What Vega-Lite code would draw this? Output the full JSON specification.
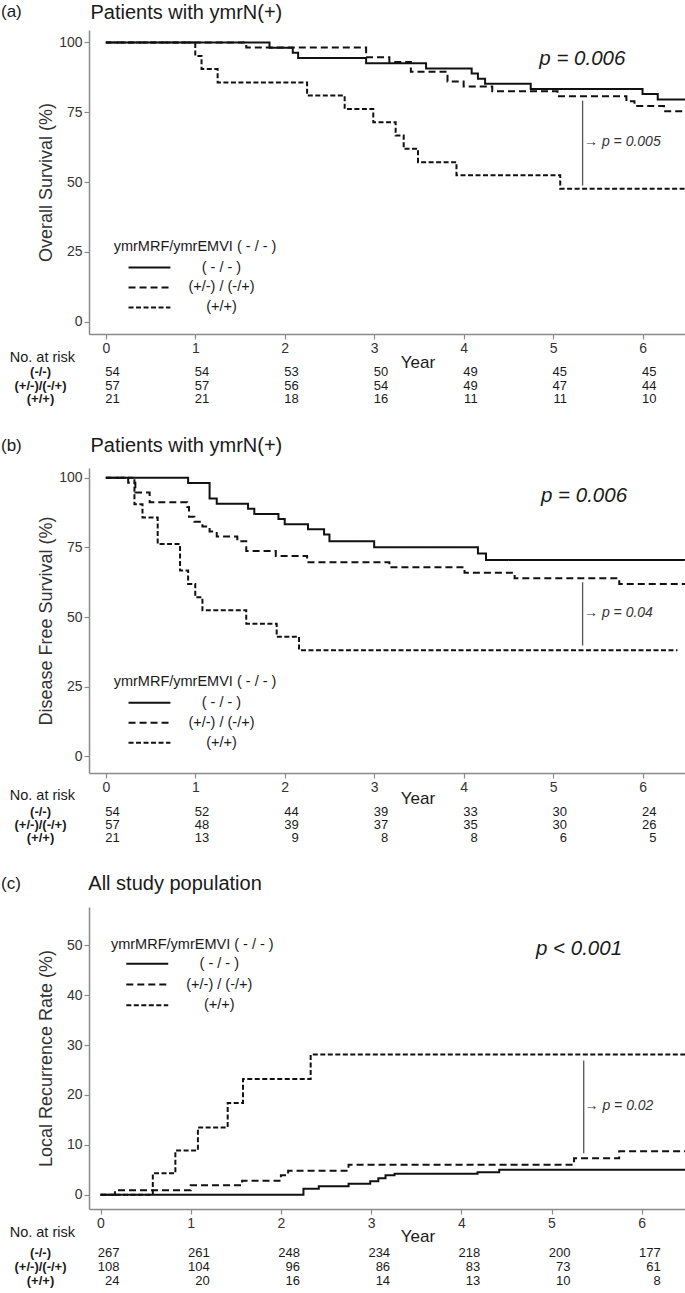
{
"$schema": "https://vega.github.io/schema/vega-lite/v6.json",
"background": "white",
"padding": {"left": 0, "top": 2, "right": 0, "bottom": 0},
"autosize": {"type": "pad"},
"bounds": "flush",
"spacing": 134,
"resolve": {"scale": {"x": "independent", "y": "independent"}},
"config": {
  "font": "Liberation Sans",
  "view": {"stroke": null},
  "axis": {"grid": false, "domainColor": "#8a8a8a", "domainWidth": 1.5, "tickColor": "#8a8a8a", "tickWidth": 1.2, "tickSize": 5, "labelColor": "#333333", "labelFontSize": 14, "labelPadding": 2, "titleColor": "#333333", "titleFontSize": 18, "titleFontWeight": "normal", "labelFont": "Liberation Sans", "titleFont": "Liberation Sans"},
  "text": {"color": "#1a1a1a", "baseline": "middle"}
},
"datasets": {
  "km": [
    {"p":"a","g":"n","t":0,"v":100},{"p":"a","g":"n","t":1.83,"v":98.1},{"p":"a","g":"n","t":2.09,"v":96.3},{"p":"a","g":"n","t":2.15,"v":94.4},{"p":"a","g":"n","t":2.91,"v":92.6},{"p":"a","g":"n","t":3.58,"v":90.7},{"p":"a","g":"n","t":4.09,"v":88.9},{"p":"a","g":"n","t":4.16,"v":87.0},{"p":"a","g":"n","t":4.24,"v":85.2},{"p":"a","g":"n","t":4.75,"v":83.3},{"p":"a","g":"n","t":6.0,"v":81.5},{"p":"a","g":"n","t":6.17,"v":79.6},{"p":"a","g":"n","t":6.48,"v":79.6},
    {"p":"a","g":"m","t":0,"v":100},{"p":"a","g":"m","t":1.57,"v":98.2},{"p":"a","g":"m","t":2.91,"v":94.7},{"p":"a","g":"m","t":3.17,"v":93.0},{"p":"a","g":"m","t":3.41,"v":89.5},{"p":"a","g":"m","t":3.82,"v":86.0},{"p":"a","g":"m","t":4.0,"v":84.2},{"p":"a","g":"m","t":4.32,"v":82.5},{"p":"a","g":"m","t":5.05,"v":80.7},{"p":"a","g":"m","t":5.82,"v":78.9},{"p":"a","g":"m","t":5.91,"v":77.2},{"p":"a","g":"m","t":6.24,"v":75.4},{"p":"a","g":"m","t":6.48,"v":75.4},
    {"p":"a","g":"p","t":0,"v":100},{"p":"a","g":"p","t":1.0,"v":95.2},{"p":"a","g":"p","t":1.07,"v":90.5},{"p":"a","g":"p","t":1.25,"v":85.7},{"p":"a","g":"p","t":2.25,"v":81.0},{"p":"a","g":"p","t":2.67,"v":76.2},{"p":"a","g":"p","t":2.99,"v":71.4},{"p":"a","g":"p","t":3.24,"v":66.7},{"p":"a","g":"p","t":3.33,"v":61.9},{"p":"a","g":"p","t":3.49,"v":57.1},{"p":"a","g":"p","t":3.92,"v":52.4},{"p":"a","g":"p","t":5.08,"v":47.6},{"p":"a","g":"p","t":6.48,"v":47.6},
    {"p":"b","g":"n","t":0,"v":100},{"p":"b","g":"n","t":0.92,"v":98.1},{"p":"b","g":"n","t":1.16,"v":92.6},{"p":"b","g":"n","t":1.24,"v":90.7},{"p":"b","g":"n","t":1.59,"v":88.9},{"p":"b","g":"n","t":1.66,"v":87.0},{"p":"b","g":"n","t":1.93,"v":85.2},{"p":"b","g":"n","t":2.0,"v":83.3},{"p":"b","g":"n","t":2.26,"v":81.5},{"p":"b","g":"n","t":2.44,"v":79.6},{"p":"b","g":"n","t":2.5,"v":77.2},{"p":"b","g":"n","t":3.0,"v":75.1},{"p":"b","g":"n","t":4.16,"v":72.8},{"p":"b","g":"n","t":4.25,"v":70.5},{"p":"b","g":"n","t":6.48,"v":70.5},
    {"p":"b","g":"m","t":0,"v":100},{"p":"b","g":"m","t":0.25,"v":98.2},{"p":"b","g":"m","t":0.33,"v":94.7},{"p":"b","g":"m","t":0.49,"v":91.2},{"p":"b","g":"m","t":0.91,"v":89.5},{"p":"b","g":"m","t":0.93,"v":86.0},{"p":"b","g":"m","t":0.99,"v":84.2},{"p":"b","g":"m","t":1.08,"v":82.5},{"p":"b","g":"m","t":1.16,"v":80.7},{"p":"b","g":"m","t":1.24,"v":78.9},{"p":"b","g":"m","t":1.47,"v":77.2},{"p":"b","g":"m","t":1.57,"v":73.7},{"p":"b","g":"m","t":1.9,"v":71.9},{"p":"b","g":"m","t":2.25,"v":69.7},{"p":"b","g":"m","t":3.17,"v":67.9},{"p":"b","g":"m","t":4.01,"v":65.9},{"p":"b","g":"m","t":4.57,"v":63.9},{"p":"b","g":"m","t":5.74,"v":61.9},{"p":"b","g":"m","t":6.48,"v":61.9},
    {"p":"b","g":"p","t":0,"v":100},{"p":"b","g":"p","t":0.32,"v":90.5},{"p":"b","g":"p","t":0.41,"v":85.7},{"p":"b","g":"p","t":0.58,"v":76.2},{"p":"b","g":"p","t":0.83,"v":66.7},{"p":"b","g":"p","t":0.92,"v":61.9},{"p":"b","g":"p","t":1.0,"v":57.1},{"p":"b","g":"p","t":1.08,"v":52.4},{"p":"b","g":"p","t":1.57,"v":47.6},{"p":"b","g":"p","t":1.91,"v":42.9},{"p":"b","g":"p","t":2.16,"v":38.1},{"p":"b","g":"p","t":6.39,"v":38.1},
    {"p":"c","g":"n","t":0,"v":0},{"p":"c","g":"n","t":2.25,"v":1.2},{"p":"c","g":"n","t":2.42,"v":1.7},{"p":"c","g":"n","t":2.75,"v":2.2},{"p":"c","g":"n","t":2.99,"v":2.7},{"p":"c","g":"n","t":3.08,"v":3.3},{"p":"c","g":"n","t":3.16,"v":3.9},{"p":"c","g":"n","t":3.26,"v":4.2},{"p":"c","g":"n","t":4.18,"v":4.5},{"p":"c","g":"n","t":4.42,"v":5.0},{"p":"c","g":"n","t":6.49,"v":5.0},
    {"p":"c","g":"m","t":0,"v":0},{"p":"c","g":"m","t":0.16,"v":0.9},{"p":"c","g":"m","t":1.0,"v":1.9},{"p":"c","g":"m","t":1.57,"v":2.8},{"p":"c","g":"m","t":2.0,"v":3.9},{"p":"c","g":"m","t":2.08,"v":4.8},{"p":"c","g":"m","t":2.75,"v":6.0},{"p":"c","g":"m","t":5.25,"v":7.3},{"p":"c","g":"m","t":5.75,"v":8.7},{"p":"c","g":"m","t":6.49,"v":8.7},
    {"p":"c","g":"p","t":0,"v":0},{"p":"c","g":"p","t":0.58,"v":4.3},{"p":"c","g":"p","t":0.83,"v":8.9},{"p":"c","g":"p","t":1.08,"v":13.5},{"p":"c","g":"p","t":1.41,"v":18.4},{"p":"c","g":"p","t":1.58,"v":23.2},{"p":"c","g":"p","t":2.33,"v":28.1},{"p":"c","g":"p","t":6.49,"v":28.1}
  ],
  "risk": [
    {"p":"a","g":"n","year":0,"n":54},{"p":"a","g":"n","year":1,"n":54},{"p":"a","g":"n","year":2,"n":53},{"p":"a","g":"n","year":3,"n":50},{"p":"a","g":"n","year":4,"n":49},{"p":"a","g":"n","year":5,"n":45},{"p":"a","g":"n","year":6,"n":45},
    {"p":"a","g":"m","year":0,"n":57},{"p":"a","g":"m","year":1,"n":57},{"p":"a","g":"m","year":2,"n":56},{"p":"a","g":"m","year":3,"n":54},{"p":"a","g":"m","year":4,"n":49},{"p":"a","g":"m","year":5,"n":47},{"p":"a","g":"m","year":6,"n":44},
    {"p":"a","g":"p","year":0,"n":21},{"p":"a","g":"p","year":1,"n":21},{"p":"a","g":"p","year":2,"n":18},{"p":"a","g":"p","year":3,"n":16},{"p":"a","g":"p","year":4,"n":11},{"p":"a","g":"p","year":5,"n":11},{"p":"a","g":"p","year":6,"n":10},
    {"p":"b","g":"n","year":0,"n":54},{"p":"b","g":"n","year":1,"n":52},{"p":"b","g":"n","year":2,"n":44},{"p":"b","g":"n","year":3,"n":39},{"p":"b","g":"n","year":4,"n":33},{"p":"b","g":"n","year":5,"n":30},{"p":"b","g":"n","year":6,"n":24},
    {"p":"b","g":"m","year":0,"n":57},{"p":"b","g":"m","year":1,"n":48},{"p":"b","g":"m","year":2,"n":39},{"p":"b","g":"m","year":3,"n":37},{"p":"b","g":"m","year":4,"n":35},{"p":"b","g":"m","year":5,"n":30},{"p":"b","g":"m","year":6,"n":26},
    {"p":"b","g":"p","year":0,"n":21},{"p":"b","g":"p","year":1,"n":13},{"p":"b","g":"p","year":2,"n":9},{"p":"b","g":"p","year":3,"n":8},{"p":"b","g":"p","year":4,"n":8},{"p":"b","g":"p","year":5,"n":6},{"p":"b","g":"p","year":6,"n":5},
    {"p":"c","g":"n","year":0,"n":267},{"p":"c","g":"n","year":1,"n":261},{"p":"c","g":"n","year":2,"n":248},{"p":"c","g":"n","year":3,"n":234},{"p":"c","g":"n","year":4,"n":218},{"p":"c","g":"n","year":5,"n":200},{"p":"c","g":"n","year":6,"n":177},
    {"p":"c","g":"m","year":0,"n":108},{"p":"c","g":"m","year":1,"n":104},{"p":"c","g":"m","year":2,"n":96},{"p":"c","g":"m","year":3,"n":86},{"p":"c","g":"m","year":4,"n":83},{"p":"c","g":"m","year":5,"n":73},{"p":"c","g":"m","year":6,"n":61},
    {"p":"c","g":"p","year":0,"n":24},{"p":"c","g":"p","year":1,"n":20},{"p":"c","g":"p","year":2,"n":16},{"p":"c","g":"p","year":3,"n":14},{"p":"c","g":"p","year":4,"n":13},{"p":"c","g":"p","year":5,"n":10},{"p":"c","g":"p","year":6,"n":8}
  ]
},
"vconcat": [
{
  "width": 597, "height": 304,
  "layer": [
    {"data":{"name":"km"},"transform":[{"filter":"datum.p==='a'"}],
     "mark":{"type":"line","interpolate":"step-after","strokeWidth":2,"color":"#111111"},
     "encoding":{
       "x":{"field":"t","type":"quantitative","scale":{"domain":[-0.188,6.486],"nice":false,"zero":false},"axis":{"values":[0,1,2,3,4,5,6],"title":null,"format":"d"}},
       "y":{"field":"v","type":"quantitative","scale":{"domain":[-4.48,104.48],"nice":false,"zero":false},"axis":{"values":[0,25,50,75,100],"title":"Overall Survival (%)","titlePadding":3}},
       "strokeDash":{"field":"g","type":"nominal","scale":{"domain":["n","m","p"],"range":[[1,0],[7,4],[5,2.5]]},"legend":null}}},
    {"data":{"values":[{}]},"mark":{"type":"text","text":"(a)","fontSize":17,"align":"left"},"encoding":{"x":{"datum":-1.172},"y":{"datum":110.9}}},
    {"data":{"values":[{}]},"mark":{"type":"text","text":"Patients with ymrN(+)","fontSize":20,"align":"left"},"encoding":{"x":{"datum":-0.171},"y":{"datum":110.75}}},
    {"data":{"values":[{}]},"mark":{"type":"text","text":"ymrMRF/ymrEMVI ( - / - )","fontSize":14.5,"align":"left"},"encoding":{"x":{"datum":0.088},"y":{"datum":26.6}}},
    {"data":{"values":[{}]},"mark":{"type":"rule","strokeWidth":2,"color":"#111111"},"encoding":{"x":{"datum":0.254},"x2":{"datum":0.722},"y":{"datum":19.35}}},
    {"data":{"values":[{}]},"mark":{"type":"rule","strokeWidth":2,"color":"#111111","strokeDash":[7,4]},"encoding":{"x":{"datum":0.254},"x2":{"datum":0.722},"y":{"datum":12.19}}},
    {"data":{"values":[{}]},"mark":{"type":"rule","strokeWidth":2,"color":"#111111","strokeDash":[5,2.5]},"encoding":{"x":{"datum":0.254},"x2":{"datum":0.722},"y":{"datum":5.02}}},
    {"data":{"values":[{}]},"mark":{"type":"text","text":"( - / - )","fontSize":14.5,"align":"center"},"encoding":{"x":{"datum":1.293},"y":{"datum":19.35}}},
    {"data":{"values":[{}]},"mark":{"type":"text","text":"(+/-) / (-/+)","fontSize":14.5,"align":"center"},"encoding":{"x":{"datum":1.293},"y":{"datum":12.19}}},
    {"data":{"values":[{}]},"mark":{"type":"text","text":"(+/+)","fontSize":14.5,"align":"center"},"encoding":{"x":{"datum":1.293},"y":{"datum":5.02}}},
    {"data":{"values":[{}]},"mark":{"type":"text","text":"p = 0.006","fontSize":20.5,"fontStyle":"italic","align":"left"},"encoding":{"x":{"datum":4.846},"y":{"datum":94.1}}},
    {"data":{"values":[{}]},"mark":{"type":"rule","strokeWidth":1.3,"color":"#555555"},"encoding":{"x":{"datum":5.33},"y":{"datum":79.2},"y2":{"datum":48.7}}},
    {"data":{"values":[{}]},"mark":{"type":"text","text":"→ p = 0.005","fontSize":14,"fontStyle":"italic","align":"left","color":"#333333"},"encoding":{"x":{"datum":5.346},"y":{"datum":64.3}}},
    {"data":{"values":[{}]},"mark":{"type":"text","text":"Year","fontSize":17,"align":"center"},"encoding":{"x":{"datum":3.49},"y":{"datum":-14.7}}},
    {"data":{"values":[{}]},"mark":{"type":"text","text":"No. at risk","fontSize":14.5,"align":"left"},"encoding":{"x":{"datum":-1.074},"y":{"datum":-13.26}}},
    {"data":{"values":[{}]},"mark":{"type":"text","text":"(-/-)","fontSize":13,"fontWeight":"bold","align":"center"},"encoding":{"x":{"datum":-0.73},"y":{"datum":-18.17}}},
    {"data":{"values":[{}]},"mark":{"type":"text","text":"(+/-)/(-/+)","fontSize":13,"fontWeight":"bold","align":"center"},"encoding":{"x":{"datum":-0.73},"y":{"datum":-22.94}}},
    {"data":{"values":[{}]},"mark":{"type":"text","text":"(+/+)","fontSize":13,"fontWeight":"bold","align":"center"},"encoding":{"x":{"datum":-0.73},"y":{"datum":-27.71}}},
    {"data":{"name":"risk"},"transform":[{"filter":"datum.p==='a' && datum.g==='n'"}],"mark":{"type":"text","fontSize":13,"align":"right","dx":14},"encoding":{"x":{"field":"year","type":"quantitative"},"y":{"datum":-18.17},"text":{"field":"n"}}},
    {"data":{"name":"risk"},"transform":[{"filter":"datum.p==='a' && datum.g==='m'"}],"mark":{"type":"text","fontSize":13,"align":"right","dx":14},"encoding":{"x":{"field":"year","type":"quantitative"},"y":{"datum":-22.94},"text":{"field":"n"}}},
    {"data":{"name":"risk"},"transform":[{"filter":"datum.p==='a' && datum.g==='p'"}],"mark":{"type":"text","fontSize":13,"align":"right","dx":14},"encoding":{"x":{"field":"year","type":"quantitative"},"y":{"datum":-27.71},"text":{"field":"n"}}}
  ]
},
{
  "width": 597, "height": 305,
  "layer": [
    {"data":{"name":"km"},"transform":[{"filter":"datum.p==='b'"}],
     "mark":{"type":"line","interpolate":"step-after","strokeWidth":2,"color":"#111111"},
     "encoding":{
       "x":{"field":"t","type":"quantitative","scale":{"domain":[-0.188,6.486],"nice":false,"zero":false},"axis":{"values":[0,1,2,3,4,5,6],"title":null,"format":"d"}},
       "y":{"field":"v","type":"quantitative","scale":{"domain":[-6.03,103.52],"nice":false,"zero":false},"axis":{"values":[0,25,50,75,100],"title":"Disease Free Survival (%)","titlePadding":3}},
       "strokeDash":{"field":"g","type":"nominal","scale":{"domain":["n","m","p"],"range":[[1,0],[7,4],[5,2.5]]},"legend":null}}},
    {"data":{"values":[{}]},"mark":{"type":"text","text":"(b)","fontSize":17,"align":"left"},"encoding":{"x":{"datum":-1.172},"y":{"datum":111.6}}},
    {"data":{"values":[{}]},"mark":{"type":"text","text":"Patients with ymrN(+)","fontSize":20,"align":"left"},"encoding":{"x":{"datum":-0.171},"y":{"datum":111.6}}},
    {"data":{"values":[{}]},"mark":{"type":"text","text":"ymrMRF/ymrEMVI ( - / - )","fontSize":14.5,"align":"left"},"encoding":{"x":{"datum":0.088},"y":{"datum":26.58}}},
    {"data":{"values":[{}]},"mark":{"type":"rule","strokeWidth":2,"color":"#111111"},"encoding":{"x":{"datum":0.254},"x2":{"datum":0.722},"y":{"datum":19.18}}},
    {"data":{"values":[{}]},"mark":{"type":"rule","strokeWidth":2,"color":"#111111","strokeDash":[7,4]},"encoding":{"x":{"datum":0.254},"x2":{"datum":0.722},"y":{"datum":12.0}}},
    {"data":{"values":[{}]},"mark":{"type":"rule","strokeWidth":2,"color":"#111111","strokeDash":[5,2.5]},"encoding":{"x":{"datum":0.254},"x2":{"datum":0.722},"y":{"datum":4.81}}},
    {"data":{"values":[{}]},"mark":{"type":"text","text":"( - / - )","fontSize":14.5,"align":"center"},"encoding":{"x":{"datum":1.293},"y":{"datum":19.18}}},
    {"data":{"values":[{}]},"mark":{"type":"text","text":"(+/-) / (-/+)","fontSize":14.5,"align":"center"},"encoding":{"x":{"datum":1.293},"y":{"datum":12.0}}},
    {"data":{"values":[{}]},"mark":{"type":"text","text":"(+/+)","fontSize":14.5,"align":"center"},"encoding":{"x":{"datum":1.293},"y":{"datum":4.81}}},
    {"data":{"values":[{}]},"mark":{"type":"text","text":"p = 0.006","fontSize":20.5,"fontStyle":"italic","align":"left"},"encoding":{"x":{"datum":4.865},"y":{"datum":93.64}}},
    {"data":{"values":[{}]},"mark":{"type":"rule","strokeWidth":1.3,"color":"#555555"},"encoding":{"x":{"datum":5.33},"y":{"datum":62.5},"y2":{"datum":39.76}}},
    {"data":{"values":[{}]},"mark":{"type":"text","text":"→ p = 0.04","fontSize":14,"fontStyle":"italic","align":"left","color":"#333333"},"encoding":{"x":{"datum":5.346},"y":{"datum":51.4}}},
    {"data":{"values":[{}]},"mark":{"type":"text","text":"Year","fontSize":17,"align":"center"},"encoding":{"x":{"datum":3.49},"y":{"datum":-15.3}}},
    {"data":{"values":[{}]},"mark":{"type":"text","text":"No. at risk","fontSize":14.5,"align":"left"},"encoding":{"x":{"datum":-1.074},"y":{"datum":-14.12}}},
    {"data":{"values":[{}]},"mark":{"type":"text","text":"(-/-)","fontSize":13,"fontWeight":"bold","align":"center"},"encoding":{"x":{"datum":-0.73},"y":{"datum":-20.04}}},
    {"data":{"values":[{}]},"mark":{"type":"text","text":"(+/-)/(-/+)","fontSize":13,"fontWeight":"bold","align":"center"},"encoding":{"x":{"datum":-0.73},"y":{"datum":-24.78}}},
    {"data":{"values":[{}]},"mark":{"type":"text","text":"(+/+)","fontSize":13,"fontWeight":"bold","align":"center"},"encoding":{"x":{"datum":-0.73},"y":{"datum":-29.53}}},
    {"data":{"name":"risk"},"transform":[{"filter":"datum.p==='b' && datum.g==='n'"}],"mark":{"type":"text","fontSize":13,"align":"right","dx":14},"encoding":{"x":{"field":"year","type":"quantitative"},"y":{"datum":-20.04},"text":{"field":"n"}}},
    {"data":{"name":"risk"},"transform":[{"filter":"datum.p==='b' && datum.g==='m'"}],"mark":{"type":"text","fontSize":13,"align":"right","dx":14},"encoding":{"x":{"field":"year","type":"quantitative"},"y":{"datum":-24.78},"text":{"field":"n"}}},
    {"data":{"name":"risk"},"transform":[{"filter":"datum.p==='b' && datum.g==='p'"}],"mark":{"type":"text","fontSize":13,"align":"right","dx":14},"encoding":{"x":{"field":"year","type":"quantitative"},"y":{"datum":-29.53},"text":{"field":"n"}}}
  ]
},
{
  "width": 597, "height": 302,
  "layer": [
    {"data":{"name":"km"},"transform":[{"filter":"datum.p==='c'"}],
     "mark":{"type":"line","interpolate":"step-after","strokeWidth":2,"color":"#111111"},
     "encoding":{
       "x":{"field":"t","type":"quantitative","scale":{"domain":[-0.1275,6.491],"nice":false,"zero":false},"axis":{"values":[0,1,2,3,4,5,6],"title":null,"format":"d"}},
       "y":{"field":"v","type":"quantitative","scale":{"domain":[-2.85,57.68],"nice":false,"zero":false},"axis":{"values":[0,10,20,30,40,50],"title":"Local Recurrence Rate (%)","titlePadding":11}},
       "strokeDash":{"field":"g","type":"nominal","scale":{"domain":["n","m","p"],"range":[[1,0],[7,4],[5,2.5]]},"legend":null}}},
    {"data":{"values":[{}]},"mark":{"type":"text","text":"(c)","fontSize":17,"align":"left"},"encoding":{"x":{"datum":-1.103},"y":{"datum":62.3}}},
    {"data":{"values":[{}]},"mark":{"type":"text","text":"All study population","fontSize":20,"align":"left"},"encoding":{"x":{"datum":-0.135},"y":{"datum":62.3}}},
    {"data":{"values":[{}]},"mark":{"type":"text","text":"ymrMRF/ymrEMVI ( - / - )","fontSize":14.5,"align":"left"},"encoding":{"x":{"datum":0.116},"y":{"datum":50.16}}},
    {"data":{"values":[{}]},"mark":{"type":"rule","strokeWidth":2,"color":"#111111"},"encoding":{"x":{"datum":0.286},"x2":{"datum":0.751},"y":{"datum":46.3}}},
    {"data":{"values":[{}]},"mark":{"type":"rule","strokeWidth":2,"color":"#111111","strokeDash":[7,4]},"encoding":{"x":{"datum":0.286},"x2":{"datum":0.751},"y":{"datum":42.14}}},
    {"data":{"values":[{}]},"mark":{"type":"rule","strokeWidth":2,"color":"#111111","strokeDash":[5,2.5]},"encoding":{"x":{"datum":0.286},"x2":{"datum":0.751},"y":{"datum":38.0}}},
    {"data":{"values":[{}]},"mark":{"type":"text","text":"( - / - )","fontSize":14.5,"align":"center"},"encoding":{"x":{"datum":1.317},"y":{"datum":46.3}}},
    {"data":{"values":[{}]},"mark":{"type":"text","text":"(+/-) / (-/+)","fontSize":14.5,"align":"center"},"encoding":{"x":{"datum":1.317},"y":{"datum":42.14}}},
    {"data":{"values":[{}]},"mark":{"type":"text","text":"(+/+)","fontSize":14.5,"align":"center"},"encoding":{"x":{"datum":1.317},"y":{"datum":38.0}}},
    {"data":{"values":[{}]},"mark":{"type":"text","text":"p < 0.001","fontSize":20.5,"fontStyle":"italic","align":"left"},"encoding":{"x":{"datum":4.828},"y":{"datum":49.3}}},
    {"data":{"values":[{}]},"mark":{"type":"rule","strokeWidth":1.3,"color":"#555555"},"encoding":{"x":{"datum":5.357},"y":{"datum":26.9},"y2":{"datum":8.3}}},
    {"data":{"values":[{}]},"mark":{"type":"text","text":"→ p = 0.02","fontSize":14,"fontStyle":"italic","align":"left","color":"#333333"},"encoding":{"x":{"datum":5.366},"y":{"datum":17.7}}},
    {"data":{"values":[{}]},"mark":{"type":"text","text":"Year","fontSize":17,"align":"center"},"encoding":{"x":{"datum":3.52},"y":{"datum":-8.5}}},
    {"data":{"values":[{}]},"mark":{"type":"text","text":"No. at risk","fontSize":14.5,"align":"left"},"encoding":{"x":{"datum":-1.007},"y":{"datum":-7.76}}},
    {"data":{"values":[{}]},"mark":{"type":"text","text":"(-/-)","fontSize":13,"fontWeight":"bold","align":"center"},"encoding":{"x":{"datum":-0.665},"y":{"datum":-11.62}}},
    {"data":{"values":[{}]},"mark":{"type":"text","text":"(+/-)/(-/+)","fontSize":13,"fontWeight":"bold","align":"center"},"encoding":{"x":{"datum":-0.665},"y":{"datum":-14.51}}},
    {"data":{"values":[{}]},"mark":{"type":"text","text":"(+/+)","fontSize":13,"fontWeight":"bold","align":"center"},"encoding":{"x":{"datum":-0.665},"y":{"datum":-17.31}}},
    {"data":{"name":"risk"},"transform":[{"filter":"datum.p==='c' && datum.g==='n'"}],"mark":{"type":"text","fontSize":13,"align":"right","dx":19},"encoding":{"x":{"field":"year","type":"quantitative"},"y":{"datum":-11.62},"text":{"field":"n"}}},
    {"data":{"name":"risk"},"transform":[{"filter":"datum.p==='c' && datum.g==='m'"}],"mark":{"type":"text","fontSize":13,"align":"right","dx":19},"encoding":{"x":{"field":"year","type":"quantitative"},"y":{"datum":-14.51},"text":{"field":"n"}}},
    {"data":{"name":"risk"},"transform":[{"filter":"datum.p==='c' && datum.g==='p'"}],"mark":{"type":"text","fontSize":13,"align":"right","dx":19},"encoding":{"x":{"field":"year","type":"quantitative"},"y":{"datum":-17.31},"text":{"field":"n"}}}
  ]
}
]
}
